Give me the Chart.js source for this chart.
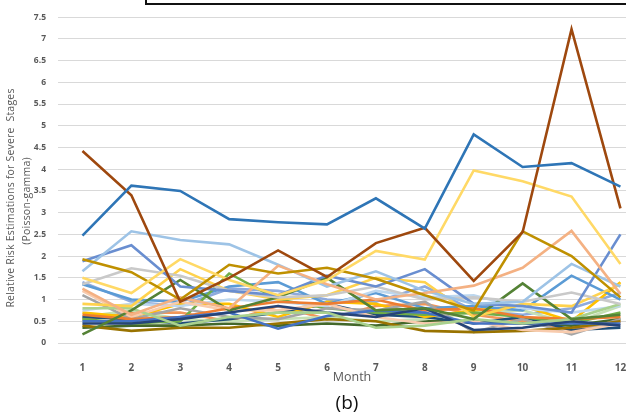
<!DOCTYPE html>
<html>
<head>
<meta charset="utf-8">
<script src="https://cdn.jsdelivr.net/npm/chart.js@4"></script>
<style>
  html, body { margin: 0; padding: 0; background: #fff; overflow: hidden; }
  #wrap { position: relative; width: 626px; height: 416px; overflow: hidden; }
  #box { position: absolute; left: 145px; top: -20px; width: 500px; height: 21px; border: 2px solid #111; }
  .ytitle { position: absolute; font-family: "Open Sans", sans-serif; font-size: 10.5px; letter-spacing: 0.2px;
            color: #595959; white-space: nowrap; transform: translate(-50%, -50%) rotate(-90deg); }
  #cap { position: absolute; left: 347px; top: 402px; transform: translate(-50%, -50%);
         font-family: "Open Sans", sans-serif; font-size: 19px; color: #111; }
</style>
</head>
<body>
<div id="wrap">
  <canvas id="riskChart" width="640" height="416"></canvas>
  <div id="box"></div>
  <div class="ytitle" style="left:10px; top:198px;">Relative Risk Estimations for Severe&nbsp; Stages</div>
  <div class="ytitle" style="left:26px; top:201px;">(Poisson-gamma)</div>
  <div id="cap">(b)</div>
</div>
<script>
// months on the x axis
const months = [1, 2, 3, 4, 5, 6, 7, 8, 9, 10, 11, 12];
const yTicks = [0, 0.5, 1, 1.5, 2, 2.5, 3, 3.5, 4, 4.5, 5, 5.5, 6, 6.5, 7, 7.5];

// relative risk per area, one array per line
const s01 = [2.47, 3.62, 3.5, 2.85, 2.78, 2.73, 3.33, 2.63, 4.8, 4.05, 4.14, 3.6];
const s02 = [4.42, 3.4, 0.95, 1.5, 2.13, 1.52, 2.3, 2.65, 1.43, 2.55, 7.22, 3.1];
const s03 = [1.5, 1.15, 1.93, 1.45, 1.1, 1.45, 2.12, 1.92, 3.97, 3.72, 3.37, 1.82];
const s04 = [1.93, 1.63, 1.0, 1.8, 1.6, 1.73, 1.48, 1.1, 0.75, 2.57, 2.0, 1.05];
const s05 = [1.25, 0.65, 1.05, 0.8, 1.78, 1.35, 1.0, 1.15, 1.32, 1.73, 2.58, 1.13];
const s06 = [1.65, 2.57, 2.37, 2.27, 1.8, 1.3, 1.65, 1.2, 0.9, 0.95, 1.82, 1.3];
const s07 = [1.88, 2.25, 1.3, 1.2, 1.1, 1.55, 1.3, 1.7, 0.9, 0.85, 0.7, 2.5];
const s08 = [1.35, 1.72, 1.55, 1.2, 1.05, 1.1, 1.3, 1.0, 1.05, 0.95, 1.16, 0.9];
const s09 = [0.2, 0.75, 1.45, 0.75, 1.05, 1.5, 0.75, 0.8, 0.55, 1.37, 0.55, 0.65];
const s10 = [0.9, 0.85, 1.7, 1.2, 1.0, 1.1, 1.5, 1.4, 0.6, 0.9, 0.85, 1.35];
const s11 = [0.8, 0.8, 0.4, 0.6, 0.7, 0.7, 0.35, 0.4, 0.55, 0.45, 0.55, 0.9];
const s12 = [0.45, 0.45, 0.55, 0.7, 0.85, 0.7, 0.6, 0.8, 0.3, 0.35, 0.5, 0.4];
const s13 = [0.5, 0.5, 0.6, 0.7, 0.33, 0.62, 0.75, 0.7, 0.45, 0.45, 0.45, 0.45];
const s14 = [0.65, 0.55, 0.6, 0.8, 0.95, 0.9, 1.0, 0.75, 0.8, 0.6, 0.55, 0.6];
const s15 = [1.2, 0.6, 0.95, 0.75, 0.75, 0.9, 0.6, 0.45, 0.5, 0.3, 0.25, 0.45];
const s16 = [0.4, 0.28, 0.35, 0.35, 0.45, 0.55, 0.5, 0.28, 0.25, 0.28, 0.35, 0.5];
const s17 = [1.1, 0.55, 0.8, 0.6, 0.55, 0.8, 0.75, 0.95, 0.25, 0.55, 0.2, 0.55];
const s18 = [0.75, 0.9, 0.85, 1.0, 0.95, 0.85, 1.2, 1.05, 1.1, 0.8, 0.7, 0.85];
const s19 = [0.55, 0.45, 0.5, 1.6, 1.0, 0.8, 0.7, 0.65, 0.7, 0.6, 0.45, 0.7];
const s20 = [1.35, 1.0, 0.95, 1.3, 1.4, 0.9, 1.15, 0.8, 0.85, 0.75, 1.55, 1.0];
const s21 = [0.7, 0.6, 0.9, 0.9, 0.6, 0.95, 0.9, 0.6, 0.75, 0.85, 0.5, 1.4];
const s22 = [0.6, 0.55, 0.45, 0.55, 0.7, 0.9, 0.65, 0.6, 0.45, 0.6, 0.3, 0.35];
const s23 = [0.6, 0.75, 0.55, 0.5, 0.55, 0.6, 0.5, 0.55, 0.7, 0.75, 0.45, 0.85];
const s24 = [0.55, 0.7, 0.7, 0.5, 0.85, 0.55, 0.85, 0.9, 0.65, 0.5, 0.3, 0.5];
const s25 = [1.4, 0.95, 0.85, 1.25, 1.2, 1.0, 0.95, 1.3, 0.75, 0.65, 0.8, 1.15];
const s26 = [0.35, 0.4, 0.4, 0.45, 0.4, 0.45, 0.4, 0.5, 0.5, 0.45, 0.4, 0.55];

const seriesList = [s01, s02, s03, s04, s05, s06, s07, s08, s09, s10, s11, s12, s13,
                    s14, s15, s16, s17, s18, s19, s20, s21, s22, s23, s24, s25, s26];

// Excel-like line colours
const colors = ['#2E75B6', '#9E480E', '#FFD966', '#BF9000', '#F4B183', '#9DC3E6', '#698ED0',
                '#C9C9C9', '#548235', '#FFD24D', '#A9D18E', '#264478', '#4472C4', '#ED7D31',
                '#F8CBAD', '#997300', '#A5A5A5', '#BDD7EE', '#70AD47', '#5B9BD5', '#FFC000',
                '#1F4E79', '#C5E0B4', '#F1975A', '#8FAADC', '#43682B'];

function start() {
    const ctx = document.getElementById('riskChart');
    new Chart(ctx, {
        type: 'line',
        data: {
            datasets: seriesList.map((vals, i) => ({
                label: 'Area ' + (i + 1),
                data: vals.map((v, j) => ({ x: months[j], y: v })),
                borderColor: colors[i],
                backgroundColor: colors[i],
                borderWidth: 2.6,
                pointRadius: 0,
                tension: 0,
                fill: false
            }))
        },
        options: {
            responsive: false,
            animation: false,
            layout: { padding: { top: 14, right: 0, left: 0, bottom: 0 } },
            plugins: {
                legend: { display: false },
                tooltip: { enabled: false }
            },
            scales: {
                x: {
                    type: 'linear',
                    min: 0.5,
                    max: 12.4,
                    afterBuildTicks: (axis) => { axis.ticks = months.map(v => ({ value: v })); },
                    afterFit: (axis) => { axis.height = 73; },
                    grid: { display: false },
                    border: { display: false },
                    ticks: {
                        padding: 11,
                        color: '#595959',
                        font: { family: 'Open Sans', size: 10, weight: 'bold' }
                    },
                    title: {
                        display: false
                    }
                },
                y: {
                    min: 0,
                    max: 7.5,
                    afterBuildTicks: (axis) => { axis.ticks = yTicks.map(v => ({ value: v })); },
                    afterFit: (axis) => { axis.width = 58; },
                    grid: { color: '#D9D9D9', lineWidth: 1, drawTicks: false },
                    border: { display: false },
                    ticks: {
                        padding: 12,
                        color: '#595959',
                        callback: (v) => String(v),
                        font: { family: 'Open Sans', size: 8.5, weight: 'bold' }
                    }
                }
            }
        },
        plugins: [{
            // x axis title drawn under the month labels
            id: 'monthTitle',
            afterDraw: (chart) => {
                const c = chart.ctx;
                c.save();
                c.font = '12.5px "Open Sans"';
                c.fillStyle = '#595959';
                c.textAlign = 'center';
                c.textBaseline = 'middle';
                c.fillText('Month', 352, 377);
                c.restore();
            }
        }]
    });
}

window.onload = start;
</script>
</body>
</html>
